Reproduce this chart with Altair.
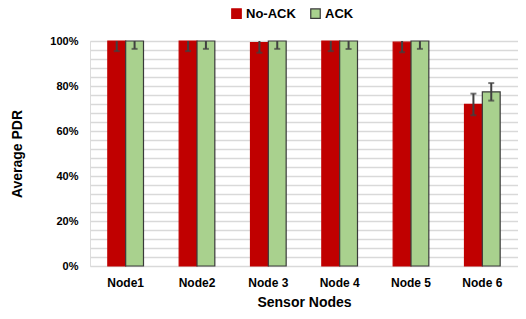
import altair as alt
import pandas as pd

nodes = ["Node1", "Node2", "Node 3", "Node 4", "Node 5", "Node 6"]
series = ["No-ACK", "ACK"]
noack = [1.0, 1.0, 0.993, 1.0, 0.995, 0.718]
ack = [1.0, 1.0, 1.0, 1.0, 1.0, 0.774]
noack_err = [0.045, 0.045, 0.045, 0.045, 0.045, 0.048]
ack_err = [0.035, 0.035, 0.035, 0.035, 0.035, 0.039]
grid_values = [0, 0.04, 0.08, 0.12, 0.16, 0.2, 0.24, 0.28, 0.32, 0.36, 0.4, 0.44, 0.48,
               0.52, 0.56, 0.6, 0.64, 0.68, 0.72, 0.76, 0.8, 0.84, 0.88, 0.92, 0.96, 1.0]

rows = []
for i, n in enumerate(nodes):
    for s, v, e in (("No-ACK", noack[i], noack_err[i]), ("ACK", ack[i], ack_err[i])):
        rows.append({"node": n, "series": s, "value": v,
                     "lo": v - e, "hi": min(v + e, 1.0), "hicap": v + e})
df = pd.DataFrame(rows)

font = "Liberation Sans"
xaxis = alt.Axis(labelAngle=0, ticks=False, domain=False, labelFont=font,
                 labelFontWeight="bold", labelFontSize=12, labelColor="#000",
                 labelPadding=11, titleFont=font, titleFontWeight="bold",
                 titleFontSize=14, titleColor="#000", titlePadding=7)
yaxis = alt.Axis(values=grid_values, labelOverlap=False,
                 labelExpr="round(datum.value*100) % 20 == 0 ? format(datum.value, '.0%') : ''",
                 ticks=False, domain=False, gridColor="#D9D9D9", gridWidth=1.5,
                 labelFont=font, labelFontWeight="bold", labelFontSize=11,
                 labelColor="#000", labelPadding=12, titleFont=font,
                 titleFontWeight="bold", titleFontSize=14, titleColor="#000",
                 titlePadding=25)
xscale = alt.Scale(paddingInner=0.5, paddingOuter=0.25)
yscale = alt.Scale(domain=[0, 1], nice=False, zero=True)
x = alt.X("node:N", sort=nodes, title="Sensor Nodes", scale=xscale, axis=xaxis)
xo = alt.XOffset("series:N", sort=series, scale=alt.Scale(paddingInner=0, paddingOuter=0))

bars = alt.Chart(df).mark_bar(strokeWidth=1.2).encode(
    x=x, xOffset=xo,
    y=alt.Y("value:Q", scale=yscale, title="Average PDR", axis=yaxis),
    color=alt.Color("series:N", sort=series,
                    scale=alt.Scale(domain=series, range=["#C00000", "#A9D18E"]),
                    legend=alt.Legend(title=None, orient="none", direction="horizontal",
                                      legendX=140, legendY=-34, symbolType="square",
                                      symbolSize=90, labelFont=font, labelFontWeight="bold",
                                      labelFontSize=13, labelColor="#000", columnPadding=12,
                                      symbolStrokeWidth=1.2, labelOffset=3)),
    stroke=alt.Stroke("series:N", sort=series,
                      scale=alt.Scale(domain=series, range=["#C00000", "#3A3A3A"]),
                      legend=None),
)

err = alt.Chart(df).mark_rule(color="#404040", strokeWidth=2).encode(
    x=x, xOffset=xo,
    y=alt.Y("lo:Q", scale=yscale, title="Average PDR", axis=yaxis), y2="hi:Q")

caplo = alt.Chart(df).mark_tick(color="#404040", thickness=2, size=6).encode(
    x=x, xOffset=xo,
    y=alt.Y("lo:Q", scale=yscale, title="Average PDR", axis=yaxis))

caphi = alt.Chart(df).transform_filter("datum.hicap <= 1").mark_tick(
    color="#404040", thickness=2, size=6).encode(
    x=x, xOffset=xo,
    y=alt.Y("hicap:Q", scale=yscale, title="Average PDR", axis=yaxis))

chart = alt.layer(bars, err, caplo, caphi).properties(
    width=428, height=225,
    autosize=alt.AutoSizeParams(type="none"),
    padding={"left": 82, "top": 33, "right": 0, "bottom": 42},
).configure_view(stroke=None).configure(background="white")

chart.save("out.html", embed_options={"renderer": "svg", "actions": False})
